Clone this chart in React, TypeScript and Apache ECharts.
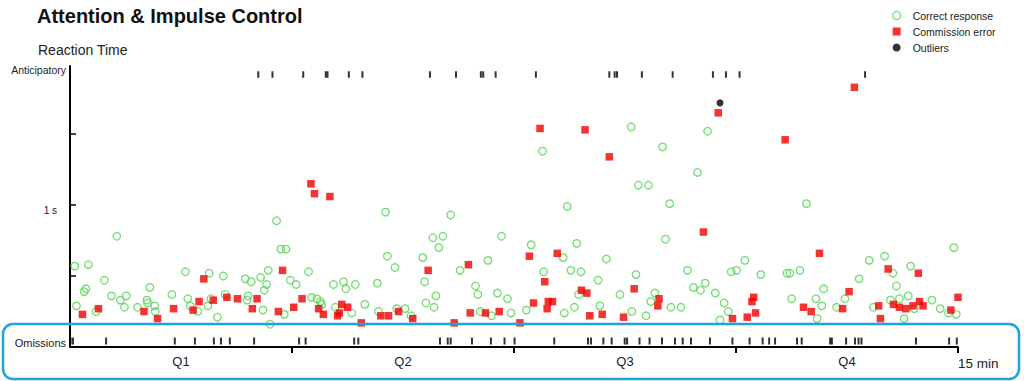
import React, { useEffect, useRef } from "react";
import * as echarts from "echarts";

// ---- data (time in minutes, reaction time in seconds) ----
const quarterLabels = ["Q1", "Q2", "Q3", "Q4"];
const quarterCenters = [1.875, 5.625, 9.375, 13.125];
const quarterBounds = [3.75, 7.5, 11.25, 15];
const rtTicks = [0.5, 1, 1.5];

const correctResponses: [number, number][] = [
  [0.08, 0.57], [0.79, 0.78], [0.31, 0.58], [0.58, 0.47], [0.27, 0.41], [0.24, 0.39], [0.11, 0.29], [0.7, 0.36],
  [0.85, 0.33], [0.95, 0.36], [0.92, 0.28], [0.44, 0.25], [1.14, 0.28], [1.3, 0.33], [1.31, 0.31], [1.35, 0.42],
  [1.43, 0.29], [1.44, 0.25], [1.72, 0.37], [1.95, 0.53], [1.99, 0.34], [2.03, 0.29], [2.16, 0.25], [2.35, 0.52],
  [2.33, 0.29], [2.38, 0.34], [2.49, 0.21], [2.59, 0.5], [2.62, 0.37], [2.96, 0.48], [3.06, 0.46], [3.01, 0.36],
  [2.99, 0.33], [3.22, 0.49], [3.32, 0.44], [3.28, 0.4], [3.35, 0.54], [3.26, 0.26], [3.38, 0.16], [3.49, 0.89],
  [3.56, 0.69], [3.65, 0.69], [3.72, 0.47], [3.62, 0.23],
  [3.82, 0.44], [4.03, 0.53], [4.08, 0.35], [4.17, 0.34], [4.23, 0.32], [4.25, 0.3], [4.45, 0.44], [4.62, 0.46],
  [4.66, 0.41], [4.82, 0.44], [4.48, 0.28], [4.76, 0.24], [4.98, 0.3], [5.19, 0.45], [5.21, 0.25], [5.33, 0.95],
  [5.36, 0.64], [5.49, 0.56], [5.52, 0.27], [5.66, 0.27], [5.76, 0.22], [5.96, 0.63], [5.99, 0.46], [6.01, 0.31],
  [6.13, 0.77], [6.3, 0.78], [6.23, 0.7], [6.18, 0.36], [6.15, 0.28], [6.43, 0.93], [6.59, 0.54], [6.85, 0.43],
  [6.89, 0.37], [7.06, 0.61], [7.22, 0.38], [7.39, 0.34], [7.29, 0.78], [6.93, 0.25], [7.12, 0.22], [7.45, 0.24],
  [7.71, 0.26], [7.79, 0.72], [7.98, 1.38], [8.0, 0.53], [8.33, 0.63], [8.35, 0.24], [8.4, 0.99], [8.46, 0.54],
  [8.63, 0.53], [8.56, 0.73], [8.52, 0.28], [8.59, 0.37], [8.92, 0.47], [8.95, 0.29], [9.06, 0.62], [9.29, 0.37],
  [9.48, 1.55], [9.49, 0.25], [9.56, 0.51], [9.6, 1.14], [9.77, 1.14], [9.73, 0.22], [9.81, 0.32], [9.88, 0.38],
  [10.01, 1.41], [10.13, 1.01], [10.06, 0.76], [10.15, 0.28], [10.32, 0.28], [10.43, 0.54], [10.53, 0.42],
  [10.65, 0.4], [10.73, 0.45], [10.6, 1.23], [10.77, 1.52], [10.9, 0.38], [11.05, 0.31], [11.12, 0.25],
  [10.98, 0.19], [11.17, 0.53], [11.26, 0.54], [11.4, 0.61],
  [11.67, 0.51], [12.11, 0.52], [12.16, 0.52], [12.33, 0.54], [12.19, 0.34], [12.44, 1.01], [12.6, 0.34],
  [12.7, 0.29], [12.62, 0.2], [12.73, 0.41], [12.95, 0.28], [13.09, 0.34], [13.33, 0.48], [13.5, 0.61],
  [13.76, 0.64], [13.9, 0.52], [13.96, 0.43], [14.2, 0.57], [13.57, 0.28], [13.86, 0.33], [14.01, 0.34],
  [14.16, 0.36], [14.09, 0.2], [14.26, 0.27], [14.56, 0.33], [14.7, 0.27], [14.84, 0.24], [14.97, 0.23], [14.93, 0.7],
];

const commissionErrors: [number, number][] = [
  [0.21, 0.23], [0.48, 0.27], [1.25, 0.25], [1.48, 0.2], [1.75, 0.27], [2.08, 0.26], [2.18, 0.32], [2.26, 0.48],
  [2.42, 0.33], [2.65, 0.35], [2.83, 0.34], [3.08, 0.27], [3.16, 0.34], [3.52, 0.25], [3.59, 0.54], [3.78, 0.28],
  [4.07, 1.15], [4.13, 1.08], [4.39, 1.06], [3.92, 0.34], [4.2, 0.27], [4.28, 0.23], [4.52, 0.22], [4.55, 0.24],
  [4.59, 0.3], [4.69, 0.28], [4.92, 0.17], [5.25, 0.22], [5.38, 0.22], [5.55, 0.25], [5.79, 0.2], [6.05, 0.54],
  [6.49, 0.17], [6.73, 0.58], [6.76, 0.24], [7.02, 0.24], [7.25, 0.25], [7.6, 0.17],
  [7.94, 1.54], [8.7, 1.53], [9.11, 1.34], [10.7, 0.81], [10.95, 1.65], [7.76, 0.64], [8.23, 0.66], [8.02, 0.46],
  [7.83, 0.31], [8.08, 0.32], [8.15, 0.32], [8.06, 0.27], [8.64, 0.4], [8.73, 0.38], [8.78, 0.22], [8.99, 0.23],
  [9.35, 0.21], [9.53, 0.41], [9.95, 0.34], [9.93, 0.29], [11.19, 0.2],
  [13.25, 1.83], [12.08, 1.46], [12.66, 0.66], [13.82, 0.55], [14.33, 0.52], [11.55, 0.35], [11.52, 0.32],
  [11.58, 0.24], [11.44, 0.21], [12.39, 0.28], [12.52, 0.25], [13.05, 0.27], [13.16, 0.39], [13.66, 0.29],
  [13.69, 0.2], [13.91, 0.3], [14.01, 0.28], [14.12, 0.27], [14.24, 0.29], [14.35, 0.32], [14.41, 0.29],
  [14.88, 0.26], [15.0, 0.35],
];

const outliers: [number, number][] = [[10.98, 1.72]];

const anticipatoryTimes = [
  3.18, 3.42, 3.94, 4.32, 4.35, 4.71, 4.94, 6.08, 6.52, 6.94, 6.98, 7.19, 7.87, 9.11, 9.2, 9.24, 9.66, 10.18,
  10.86, 11.08, 11.31, 13.43,
];

const omissionTimes = [
  0.01, 0.05, 0.61, 1.77, 2.11, 2.43, 2.55, 2.7, 3.11, 3.87, 3.98, 4.8, 4.87, 6.25, 6.38, 6.43, 6.79, 7.11, 7.34,
  7.51, 8.18, 8.75, 8.8, 9.01, 9.15, 9.37, 9.41, 9.62, 9.79, 10.0, 10.22, 10.35, 10.49, 10.81, 11.19, 11.48,
  11.7, 11.81, 11.91, 12.28, 12.36, 12.84, 12.87, 13.11, 13.26, 13.32, 13.37, 14.29, 14.85, 14.98,
];

// rows where the event tick marks sit (seconds on the RT scale)
const ANTICIPATORY_ROW = 1.92;
const OMISSION_ROW = 0.042;

const GREEN = "#4fd24f";
const RED = "#f20000";
const CYAN = "#1fa3dc";
const FONT = "'Liberation Sans', Arial, sans-serif";
const SQUARE = "path://M0 0H10V10H0Z";

export default function App() {
  const ref = useRef<HTMLDivElement>(null);
  useEffect(() => {
    if (!ref.current) return;
    const chart = echarts.init(ref.current, null, { renderer: "svg" });
    chart.setOption({
      animation: false,
      backgroundColor: "#ffffff",
      textStyle: { fontFamily: FONT, color: "#222" },
      title: [
        {
          text: "Attention & Impulse Control",
          left: 32,
          top: 1,
          textStyle: { fontSize: 20, fontWeight: "bold", color: "#111", fontFamily: FONT },
        },
        {
          text: "Reaction Time",
          left: 33,
          top: 38,
          textStyle: { fontSize: 14, fontWeight: "normal", color: "#222", fontFamily: FONT },
        },
      ],
      legend: {
        orient: "vertical",
        left: 887,
        top: 5,
        itemWidth: 22,
        itemHeight: 8,
        itemGap: 5,
        symbolKeepAspect: true,
        textStyle: { fontSize: 10.5, color: "#222", fontFamily: FONT },
        data: [
          {
            name: "Correct response",
            icon: "circle",
            itemStyle: { color: "rgba(255,255,255,0)", borderColor: GREEN, borderWidth: 1.3 },
          },
          { name: "Commission error", icon: SQUARE, itemStyle: { color: RED } },
          { name: "Outliers", icon: "circle", itemStyle: { color: "#000" } },
        ],
      },
      grid: { left: 70, right: 66, top: 66, bottom: 34, containLabel: false },
      xAxis: {
        type: "value",
        min: 0,
        max: 15,
        splitLine: { show: false },
        axisLine: { show: true, onZero: false, lineStyle: { color: "#000", width: 2 } },
        axisTick: { show: true, customValues: quarterBounds, length: 6, lineStyle: { color: "#000", width: 2 } },
        axisLabel: {
          customValues: quarterCenters,
          formatter: (v: number) => quarterLabels[quarterCenters.indexOf(v)] ?? "",
          fontSize: 13,
          color: "#222",
          margin: 8,
        },
        name: "15 min",
        nameLocation: "end",
        nameGap: 0,
        nameTextStyle: { align: "left", verticalAlign: "top", padding: [9, 0, 0, 0], fontSize: 13.5, color: "#222" },
      },
      yAxis: {
        type: "value",
        min: 0,
        max: 1.98,
        splitLine: { show: false },
        axisLine: { show: true, onZero: false, lineStyle: { color: "#000", width: 2 } },
        axisTick: { show: true, customValues: rtTicks, inside: true, length: 6, lineStyle: { color: "#000", width: 1.5 } },
        axisLabel: {
          customValues: [0.03, 1, 1.955],
          margin: 4,
          formatter: (v: number) => (v === 1 ? "{s|1 s}" : v > 1.5 ? "{a|Anticipatory}" : "{o|Omissions}"),
          rich: {
            s: { fontSize: 10, color: "#222", padding: [10, 9, 0, 0], fontFamily: FONT },
            a: { fontSize: 10.5, color: "#222", fontFamily: FONT },
            o: { fontSize: 11, color: "#222", fontFamily: FONT },
          },
        },
      },
      graphic: [
        {
          type: "rect",
          z: 100,
          silent: true,
          shape: { x: 3, y: 324, width: 1016, height: 55, r: 10 },
          style: { fill: "none", stroke: CYAN, lineWidth: 2.5 },
        },
      ],
      series: [
        {
          name: "Anticipatory",
          type: "scatter",
          symbol: "rect",
          symbolSize: [2, 6.5],
          itemStyle: { color: "#000" },
          data: anticipatoryTimes.map((t) => [t, ANTICIPATORY_ROW]),
        },
        {
          name: "Omissions",
          type: "scatter",
          symbol: "rect",
          symbolSize: [2, 7],
          itemStyle: { color: "#000" },
          data: omissionTimes.map((t) => [t, OMISSION_ROW]),
        },
        {
          name: "Correct response",
          type: "scatter",
          symbol: "circle",
          symbolSize: 7.5,
          itemStyle: { color: "rgba(255,255,255,0)", borderColor: GREEN, borderWidth: 1.3 },
          data: correctResponses,
        },
        {
          name: "Commission error",
          type: "scatter",
          symbol: "rect",
          symbolSize: 7.5,
          itemStyle: { color: RED },
          data: commissionErrors,
        },
        {
          name: "Outliers",
          type: "scatter",
          symbol: "circle",
          symbolSize: 7,
          itemStyle: { color: "#000" },
          data: outliers,
        },
      ],
    });
    return () => chart.dispose();
  }, []);
  return (
    <div
      ref={ref}
      style={{ position: "fixed", left: 0, top: 0, width: 1024, height: 381, background: "#fff" }}
    />
  );
}
